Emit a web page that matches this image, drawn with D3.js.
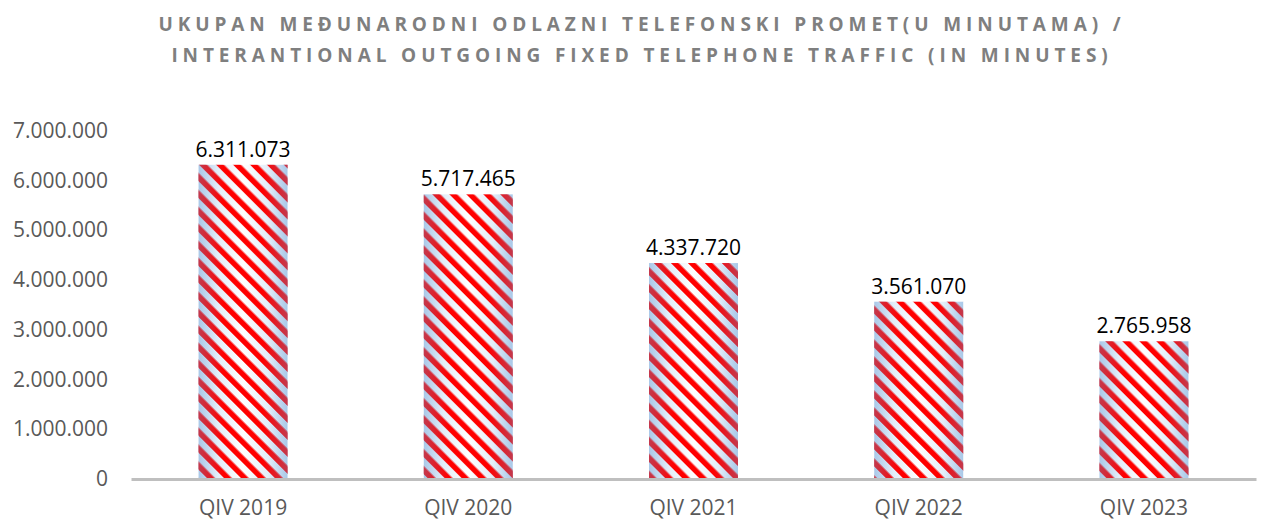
<!DOCTYPE html>
<html>
<head>
<meta charset="utf-8">
<script src="https://cdn.jsdelivr.net/npm/d3@7"></script>
<style>
  body { margin: 0; background: #fff; }
</style>
</head>
<body>
<div id="chart"></div>
<script>
// chart data
var categories = ["QIV 2019", "QIV 2020", "QIV 2021", "QIV 2022", "QIV 2023"];
var values = [6311073, 5717465, 4337720, 3561070, 2765958];
var yTicks = [0, 1000000, 2000000, 3000000, 4000000, 5000000, 6000000, 7000000];
var titleLines = [
  "UKUPAN MEĐUNARODNI ODLAZNI TELEFONSKI PROMET(U MINUTAMA) /",
  "INTERANTIONAL OUTGOING FIXED TELEPHONE TRAFFIC (IN MINUTES)"
];

var W = 1278, H = 520;
var margin = {top: 130.5, right: 22, bottom: 41, left: 131},
    width = W - margin.left - margin.right,
    height = H - margin.top - margin.bottom;

var svg = d3.select("#chart")
  .append("svg")
    .attr("width", W)
    .attr("height", H);

// fill: light blue gradient with red diagonal stripes on top
var defs = svg.append("defs");
var grad = defs.append("linearGradient").attr("id", "barGrad")
  .attr("x1", "0%").attr("x2", "100%").attr("y1", "0%").attr("y2", "0%");
grad.append("stop").attr("offset", "0%").attr("stop-color", "#a9c8e8");
grad.append("stop").attr("offset", "22%").attr("stop-color", "#e3eef9");
grad.append("stop").attr("offset", "50%").attr("stop-color", "#ffffff");
grad.append("stop").attr("offset", "78%").attr("stop-color", "#e3eef9");
grad.append("stop").attr("offset", "100%").attr("stop-color", "#a9c8e8");

function stripePattern(id, color) {
  var p = defs.append("pattern").attr("id", id)
    .attr("patternUnits", "userSpaceOnUse")
    .attr("width", 12).attr("height", 12)
    .attr("patternTransform", "rotate(-45)");
  p.append("rect")
    .attr("x", 0).attr("y", 0).attr("width", 5.5).attr("height", 12)
    .attr("fill", color);
}
stripePattern("stripes", "#ff0000");
stripePattern("stripesMask", "#ffffff");

defs.append("mask").attr("id", "stripeMask")
  .attr("maskUnits", "userSpaceOnUse")
  .attr("x", 0).attr("y", 0).attr("width", W).attr("height", H)
  .append("rect")
    .attr("x", 0).attr("y", 0).attr("width", W).attr("height", H)
    .attr("fill", "url(#stripesMask)");

// darker tint of the stripes near the bar edges
var edge = defs.append("linearGradient").attr("id", "edgeShade")
  .attr("x1", "0%").attr("x2", "100%").attr("y1", "0%").attr("y2", "0%");
edge.append("stop").attr("offset", "0%").attr("stop-color", "#6a8fc0").attr("stop-opacity", 0.4);
edge.append("stop").attr("offset", "28%").attr("stop-color", "#6a8fc0").attr("stop-opacity", 0);
edge.append("stop").attr("offset", "72%").attr("stop-color", "#6a8fc0").attr("stop-opacity", 0);
edge.append("stop").attr("offset", "100%").attr("stop-color", "#6a8fc0").attr("stop-opacity", 0.4);

var fmt = function(v) {
  return d3.format(",")(v).replace(/,/g, ".");
};

// title
svg.append("g").selectAll("text")
  .data(titleLines)
  .enter()
  .append("text")
    .attr("x", 642)
    .attr("y", function(d, i) { return 31 + i * 31; })
    .attr("text-anchor", "middle")
    .style("font-family", "'Open Sans', sans-serif")
    .style("font-weight", "bold")
    .style("font-size", "19px")
    .style("letter-spacing", "4.9px")
    .style("fill", "#7f7f7f")
    .text(function(d) { return d; });

var g = svg.append("g")
  .attr("transform", "translate(" + margin.left + "," + margin.top + ")");

var x = d3.scaleBand()
  .domain(categories)
  .range([0, width])
  .paddingInner(0.605)
  .paddingOuter(0.3);

var y = d3.scaleLinear()
  .domain([0, 7000000])
  .range([height, 0]);

// y axis labels only
var yAxis = g.append("g")
  .call(d3.axisLeft(y).tickValues(yTicks).tickFormat(fmt).tickSize(0).tickPadding(23));
yAxis.select(".domain").remove();
yAxis.selectAll("text")
  .style("font-family", "'Open Sans', sans-serif")
  .style("font-size", "21px")
  .style("fill", "#595959");

// bars
var bars = g.append("g").selectAll("g")
  .data(values)
  .enter()
  .append("g");

["url(#barGrad)", "url(#stripes)", "url(#edgeShade)"].forEach(function(f) {
  var r = bars.append("rect")
    .attr("x", function(d, i) { return x(categories[i]); })
    .attr("y", function(d) { return y(d); })
    .attr("width", x.bandwidth())
    .attr("height", function(d) { return height - y(d); })
    .attr("fill", f);
  if (f === "url(#edgeShade)") r.attr("mask", "url(#stripeMask)");
});

bars.append("text")
  .attr("x", function(d, i) { return x(categories[i]) + x.bandwidth() / 2; })
  .attr("y", function(d) { return y(d) - 8; })
  .attr("text-anchor", "middle")
  .style("font-family", "'Open Sans', sans-serif")
  .style("font-size", "21px")
  .style("fill", "#000")
  .text(function(d) { return fmt(d); });

// x axis
var xAxis = g.append("g")
  .attr("transform", "translate(0," + height + ")")
  .call(d3.axisBottom(x).tickSize(0).tickPadding(21));
xAxis.select(".domain")
  .attr("stroke", "#bfbfbf")
  .attr("stroke-width", 3);
xAxis.selectAll("text")
  .style("font-family", "'Open Sans', sans-serif")
  .style("font-size", "21px")
  .style("fill", "#595959");
</script>
</body>
</html>
